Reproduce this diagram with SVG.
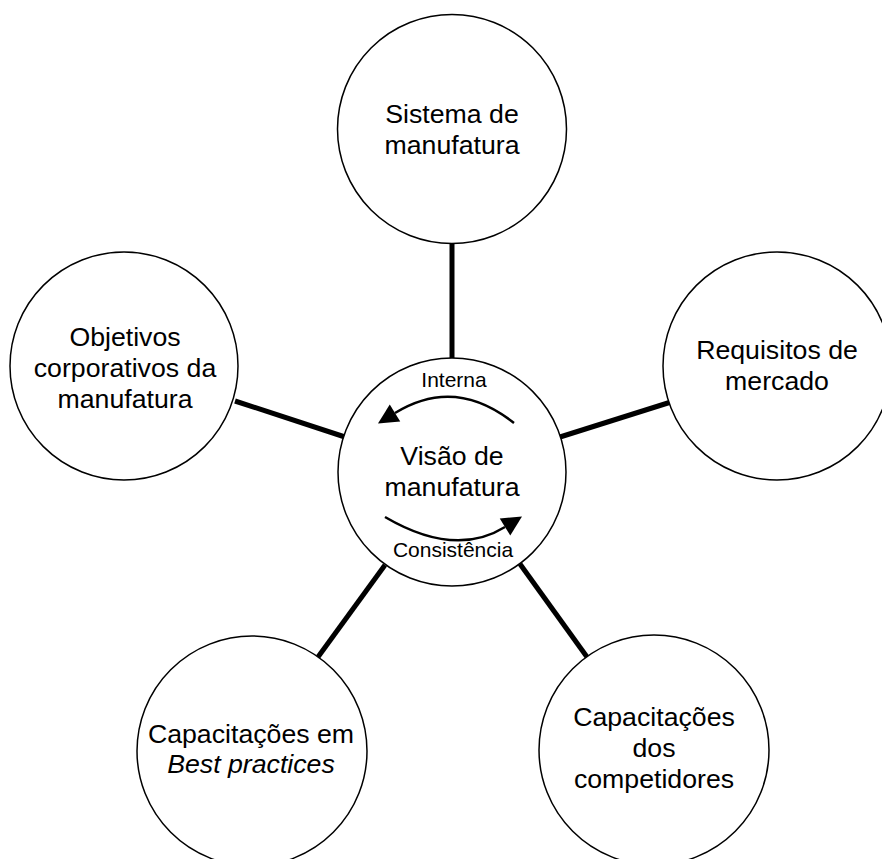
<svg xmlns="http://www.w3.org/2000/svg" width="882" height="859" viewBox="0 0 882 859">
<style>
.node{fill:#fff;stroke:#000;stroke-width:1.5}
.lbl{font-family:"Liberation Sans",Arial,sans-serif;font-size:26.7px;fill:#000;text-anchor:middle}
.sm{font-family:"Liberation Sans",Arial,sans-serif;font-size:21px;fill:#000;text-anchor:middle}
.conn{stroke:#000;stroke-width:5;fill:none}
.arc{stroke:#000;stroke-width:2.5;fill:none;marker-end:url(#ah)}
</style>
<defs>
<marker id="ah" markerUnits="userSpaceOnUse" markerWidth="22" markerHeight="22" refX="0" refY="10" orient="auto" overflow="visible">
<path d="M0,0 L20,10 L0,20 z" fill="#000"/>
</marker>
</defs>
<rect width="882" height="859" fill="#fff"/>
<g id="connectors">
<line class="conn" x1="452" y1="243" x2="452" y2="358"/>
<line class="conn" x1="235" y1="401" x2="345" y2="437"/>
<line class="conn" x1="560" y1="437" x2="671" y2="402"/>
<line class="conn" x1="385" y1="565" x2="318" y2="657"/>
<line class="conn" x1="520" y1="564" x2="587" y2="657"/>
</g>
<g id="sistema">
<circle class="node" cx="452" cy="129" r="114.5"/>
<text class="lbl" x="452" y="123">Sistema de</text>
<text class="lbl" x="452" y="154">manufatura</text>
</g>
<g id="objetivos">
<circle class="node" cx="124" cy="366" r="114"/>
<text class="lbl" x="125" y="346">Objetivos</text>
<text class="lbl" x="125" y="377">corporativos da</text>
<text class="lbl" x="125" y="408">manufatura</text>
</g>
<g id="requisitos">
<circle class="node" cx="777" cy="366" r="114"/>
<text class="lbl" x="777" y="359">Requisitos de</text>
<text class="lbl" x="777" y="390">mercado</text>
</g>
<g id="visao">
<circle class="node" cx="452" cy="472" r="114"/>
<text class="sm" x="454" y="387">Interna</text>
<text class="lbl" x="452" y="465">Visão de</text>
<text class="lbl" x="452" y="496">manufatura</text>
<text class="sm" x="453" y="557">Consistência</text>
<path class="arc" d="M514,423 Q455,376 395,413"/>
<path class="arc" d="M385,517 Q455,558 505,527"/>
</g>
<g id="bestpractices">
<circle class="node" cx="252" cy="751" r="115"/>
<text class="lbl" x="251" y="743">Capacitações em</text>
<text class="lbl" x="251" y="773" font-style="italic">Best practices</text>
</g>
<g id="competidores">
<circle class="node" cx="654" cy="750" r="115"/>
<text class="lbl" x="654" y="726">Capacitações</text>
<text class="lbl" x="654" y="757">dos</text>
<text class="lbl" x="654" y="788">competidores</text>
</g>
</svg>
